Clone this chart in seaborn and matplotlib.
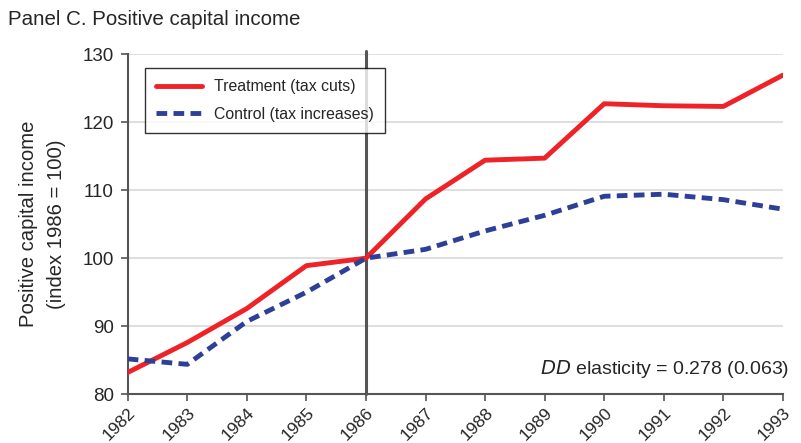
import matplotlib
matplotlib.use("Agg")
import matplotlib.pyplot as plt
import seaborn as sns
import pandas as pd

years = list(range(1982, 1994))
treatment = [83.2, 87.6, 92.6, 98.9, 100.0, 108.7, 114.4, 114.7, 122.7, 122.4, 122.3, 126.9]
control = [85.2, 84.4, 90.7, 95.0, 100.0, 101.3, 104.0, 106.3, 109.1, 109.4, 108.6, 107.2]
series_names = ["Treatment (tax cuts)", "Control (tax increases)"]

df = pd.DataFrame({
    "year": years * 2,
    "value": treatment + control,
    "group": [series_names[0]] * len(years) + [series_names[1]] * len(years),
})

sns.set_theme(style="white")
plt.rcParams["font.family"] = ["Liberation Sans", "DejaVu Sans"]

fig = plt.figure(figsize=(8.01, 4.43), dpi=100)
ax = fig.add_axes([0.1594, 0.110, 0.818, 0.768])

# reform year marker
ax.axvline(1986, color="#555555", lw=2.2, ymin=0, ymax=1.01, clip_on=False, zorder=1)

sns.lineplot(data=df, x="year", y="value", hue="group", style="group",
             palette={series_names[0]: "#ee2227", series_names[1]: "#2e3f97"},
             dashes={series_names[0]: "", series_names[1]: (2.2, 1.3)},
             lw=3.5, ax=ax, zorder=3)

ax.set_xlim(1982, 1993)
ax.set_ylim(80, 130)
ax.set_yticks(range(80, 131, 10))
ax.set_xticks(years)
ax.set_xticklabels([str(y) for y in years], rotation=45, ha="right", va="top",
                   rotation_mode="anchor", fontsize=12.5)
ax.tick_params(axis="y", labelsize=13.5, length=5, width=1.2, color="#555555", direction="out", left=True, pad=5)
ax.tick_params(axis="x", length=5, width=1.2, color="#555555", direction="out", bottom=True, pad=3)
ax.yaxis.grid(True, color="#d9d9d9", lw=1.2)
ax.set_axisbelow(True)
for s in ["top", "right"]:
    ax.spines[s].set_visible(False)
for s in ["left", "bottom"]:
    ax.spines[s].set_color("#555555")
    ax.spines[s].set_linewidth(1.5)

ax.set_xlabel("")
ax.set_ylabel("Positive capital income\n(index 1986 = 100)", fontsize=14.6, labelpad=12, linespacing=1.6)

leg = ax.legend(loc="upper left", bbox_to_anchor=(0.026, 0.959), borderaxespad=0,
                fontsize=11.4, frameon=True, fancybox=False, edgecolor="black",
                handlelength=2.9, borderpad=0.7, labelspacing=0.8, handletextpad=0.8, title=None)
leg.get_frame().set_linewidth(1.0)
for line in leg.get_lines():
    line.set_linewidth(3.5)

ax.text(1.01, 0.075, r"$\it{DD}$ elasticity = 0.278 (0.063)", transform=ax.transAxes,
        ha="right", va="center", fontsize=14)

fig.text(0.01, 0.955, "Panel C. Positive capital income", fontsize=14.8, ha="left", va="center")

fig.savefig("out.png", dpi=100)
